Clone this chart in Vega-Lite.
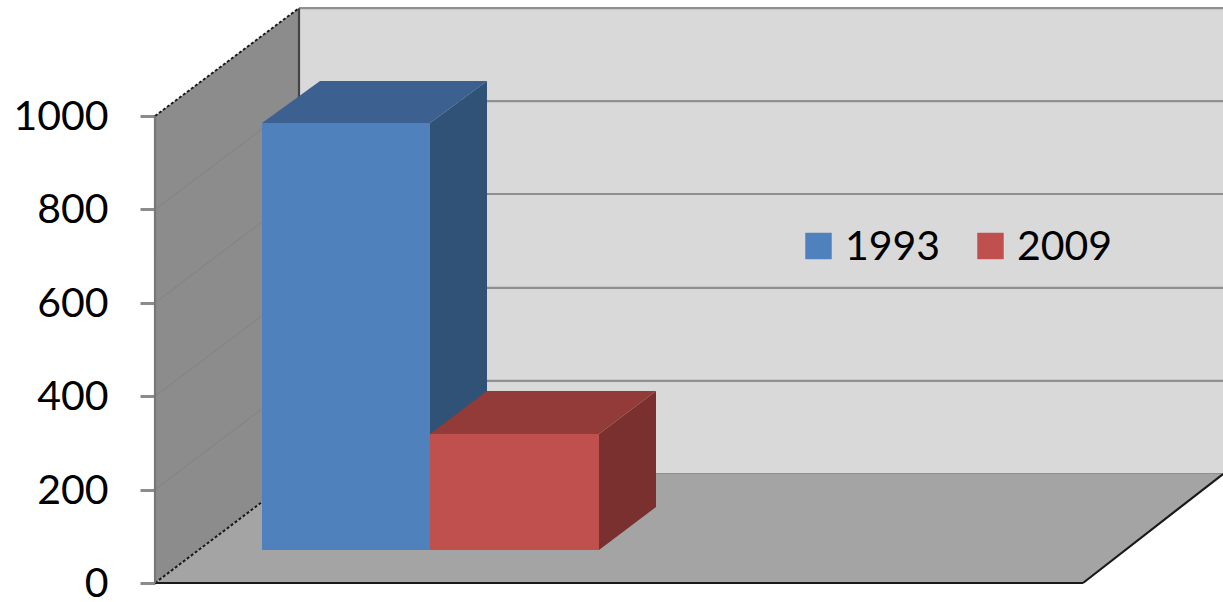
{
"$schema":"https://vega.github.io/schema/vega-lite/v6.json",
"width":1223,"height":602,"padding":0,"autosize":{"type":"none"},
"background":"#ffffff",
"config":{"view":{"stroke":null},"font":"Lato"},
"datasets":{
"back":[{"part":"back wall","x":299,"x2":1223,"v":1231,"v2":233.4}],
"leftwall":[{"part":"left wall","x":155,"v":1000,"v2":0},{"part":"left wall","x":299,"v":1231,"v2":233.4}],
"floor":[{"part":"floor","v":0,"x":155,"x2":1083},{"part":"floor","v":233.4,"x":299,"x2":1223}],
"backgrid":[
{"part":"back grid","line":"b200","x":299,"v":433},{"part":"back grid","line":"b200","x":1223,"v":433},
{"part":"back grid","line":"b400","x":299,"v":632},{"part":"back grid","line":"b400","x":1223,"v":632},
{"part":"back grid","line":"b600","x":299,"v":833},{"part":"back grid","line":"b600","x":1223,"v":833},
{"part":"back grid","line":"b800","x":299,"v":1032},{"part":"back grid","line":"b800","x":1223,"v":1032},
{"part":"back grid","line":"b0","x":299,"v":233.4},{"part":"back grid","line":"b0","x":1223,"v":233.4},
{"part":"top edge","line":"t","x":299,"v":1231},{"part":"top edge","line":"t","x":1223,"v":1231}],
"wallgrid":[
{"part":"wall grid","line":"w200","x":155,"v":200},{"part":"wall grid","line":"w200","x":299,"v":433},
{"part":"wall grid","line":"w400","x":155,"v":400},{"part":"wall grid","line":"w400","x":299,"v":632},
{"part":"wall grid","line":"w600","x":155,"v":600},{"part":"wall grid","line":"w600","x":299,"v":833},
{"part":"wall grid","line":"w800","x":155,"v":800},{"part":"wall grid","line":"w800","x":299,"v":1032}],
"dashed":[
{"part":"edge","line":"d1","x":155,"v":1000},{"part":"edge","line":"d1","x":299,"v":1231},
{"part":"edge","line":"d2","x":155,"v":0},{"part":"edge","line":"d2","x":299,"v":233.4}],
"solid":[
{"part":"edge","line":"s1","x":155,"v":0},{"part":"edge","line":"s1","x":1083,"v":0},
{"part":"edge","line":"s2","x":1083,"v":0},{"part":"edge","line":"s2","x":1223,"v":233.4},
{"part":"corner","line":"s3","x":299,"v":1231},{"part":"corner","line":"s3","x":299.01,"v":233.4},
{"part":"axis","line":"a","x":155,"v":1000},{"part":"axis","line":"a","x":155.01,"v":0}],
"sides":[
{"part":"1993 side","x":430,"v":985,"v2":70.7},{"part":"1993 side","x":487,"v":1075,"v2":162.7},
{"part":"2009 side","x":599,"v":319,"v2":70.7},{"part":"2009 side","x":656,"v":411,"v2":162.7}],
"tops":[
{"part":"1993 top","v":985,"x":262,"x2":430},{"part":"1993 top","v":1075,"x":320,"x2":487},
{"part":"2009 top","v":319,"x":430,"x2":599},{"part":"2009 top","v":411,"x":487,"x2":656}],
"fronts":[
{"part":"1993","x":262,"x2":430,"v":985,"v2":70.7},
{"part":"2009","x":430,"x2":599,"v":319,"v2":70.7}]
},
"encoding":{
"x":{"field":"x","type":"quantitative","scale":{"domain":[0,1223],"nice":false,"zero":false},"axis":null},
"y":{"field":"v","type":"quantitative","scale":{"domain":[-40.7,1248.4],"nice":false,"zero":false},
"axis":{"values":[0,200,400,600,800,1000],"format":"d","offset":-155,"domain":false,"grid":false,"title":null,"tickSize":15,"tickWidth":3,"tickColor":"#8c8c8c","labelFont":"Lato","labelFontSize":41,"labelColor":"#000000","labelPadding":32,"labelOffset":1.5,"labelBound":false,"labelOverlap":false}},
"color":{"field":"part","type":"nominal","scale":{
"domain":["1993","2009","back wall","left wall","floor","back grid","top edge","wall grid","edge","corner","axis","1993 side","1993 top","2009 side","2009 top"],
"range":["#4f81bd","#c0504d","#d9d9d9","#8c8c8c","#a4a4a4","#8f8f8f","#8f8f8f","#858585","#1a1a1a","#444444","#777777","#315277","#3c6190","#7a302e","#923b39"]},
"legend":{"values":["1993","2009"],"title":null,"orient":"none","legendX":798,"legendY":221,"columns":2,"direction":"horizontal","symbolType":"square","symbolSize":700,"symbolStrokeWidth":0,"symbolOpacity":1,"labelFont":"Lato","labelFontSize":41,"labelColor":"#000000","labelLimit":200,"columnPadding":29,"rowPadding":0,"padding":0,"labelOffset":6,"clipHeight":50,"encode":{"labels":{"update":{"dy":{"value":2}}}}}}
},
"layer":[
{"data":{"name":"back"},"mark":{"type":"rect"},"encoding":{"x2":{"field":"x2"},"y2":{"field":"v2"}}},
{"data":{"name":"backgrid"},"mark":{"type":"line","strokeWidth":2.2},"encoding":{"detail":{"field":"line"}}},
{"data":{"name":"leftwall"},"mark":{"type":"area"},"encoding":{"y2":{"field":"v2"}}},
{"data":{"name":"wallgrid"},"mark":{"type":"line","strokeWidth":1.2},"encoding":{"detail":{"field":"line"}}},
{"data":{"name":"floor"},"mark":{"type":"area","orient":"horizontal"},"encoding":{"x2":{"field":"x2"}}},
{"data":{"name":"dashed"},"mark":{"type":"line","strokeWidth":2,"strokeDash":[3,2]},"encoding":{"detail":{"field":"line"}}},
{"data":{"name":"solid"},"mark":{"type":"line","strokeWidth":2.2},"encoding":{"detail":{"field":"line"}}},
{"data":{"name":"sides"},"mark":{"type":"area"},"encoding":{"y2":{"field":"v2"}}},
{"data":{"name":"tops"},"mark":{"type":"area","orient":"horizontal"},"encoding":{"x2":{"field":"x2"}}},
{"data":{"name":"fronts"},"mark":{"type":"rect"},"encoding":{"x2":{"field":"x2"},"y2":{"field":"v2"}}}
]
}
